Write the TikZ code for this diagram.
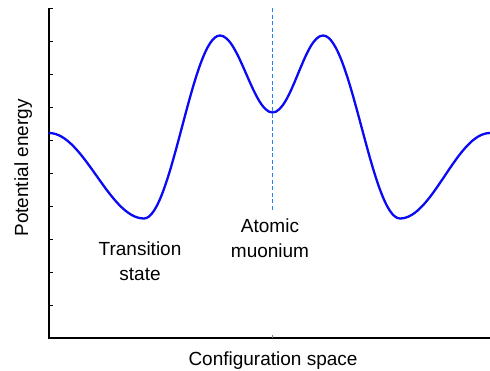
\documentclass[tikz,border=0pt]{standalone}
\usepackage{fontspec}
\setmainfont{Liberation Sans}
\definecolor{curveblue}{RGB}{10,10,245}
\definecolor{dashblue}{RGB}{30,130,250}
\begin{document}
\begin{tikzpicture}[x=1pt,y=-1pt,
  axis/.style={draw=black,line width=1.1pt},
  tickmark/.style={draw=black,line width=0.8pt},
  curve/.style={draw=curveblue,line width=2.3pt},
  guide/.style={draw=dashblue,line width=1.7pt,dash pattern=on 4pt off 2.6pt},
  lbl/.style={font=\fontsize{19}{25}\selectfont,inner sep=0pt,align=center}]
\useasboundingbox (0,0) rectangle (490,371);
% axes
\coordinate (top) at (49,8);
\coordinate (origin) at (49,338);
\coordinate (right) at (490,338);
\draw[axis] (top) -- (origin) -- (right);
\foreach \k in {0,...,9} {
  \draw[tickmark] (49,8+33*\k) -- ++(3.5,0);
}
\draw[draw=gray,line width=0.6pt] (272.5,338) -- ++(0,-2.5);
% guide line
\coordinate (gtop) at (272.5,8);
\coordinate (gbot) at (272.5,210);
\draw[guide] (gtop) -- (gbot);
% curve
\coordinate (A) at (49,133);
\coordinate (B) at (144,218.5);
\coordinate (C) at (220,35.5);
\coordinate (D) at (272.5,112.5);
\coordinate (E) at (323,35.5);
\coordinate (F) at (400,218.5);
\coordinate (G) at (490,133);
\draw[curve] (A)
  .. controls (83.5,133) and (109.5,218.5) .. (B)
  .. controls (171.5,218.5) and (192.5,35.5) .. (C)
  .. controls (239,35.5) and (253.5,112.5) .. (D)
  .. controls (291.5,112.5) and (304.5,35.5) .. (E)
  .. controls (351,35.5) and (372,218.5) .. (F)
  .. controls (432.5,218.5) and (457,133) .. (G);
% labels
\node[lbl,anchor=base] (ts) at (140,281) {Transition\\state};
\node[lbl,anchor=base] (am) at (270,258) {Atomic\\muonium};
\node[lbl,anchor=base] (xl) at (273,365) {Configuration space};
\node[lbl,anchor=base,rotate=90] (yl) at (28,168) {Potential energy};
\end{tikzpicture}
\end{document}
